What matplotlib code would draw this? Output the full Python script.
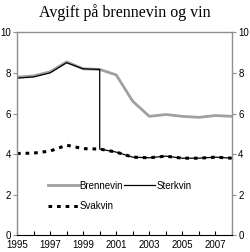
import matplotlib
matplotlib.use("Agg")
import matplotlib.pyplot as plt

plt.rcParams["font.family"] = ["Liberation Sans", "DejaVu Sans"]

years = [1995, 1996, 1997, 1998, 1999, 2000, 2001, 2002, 2003, 2004, 2005, 2006, 2007, 2008]
brennevin = [7.79, 7.85, 8.05, 8.54, 8.2, 8.17, 7.9, 6.6, 5.86, 5.95, 5.86, 5.81, 5.9, 5.86]
sterkvin_years = [1995, 1996, 1997, 1998, 1999, 2000, 2000, 2001, 2002, 2003, 2004, 2005, 2006, 2007, 2008]
sterkvin = [7.74, 7.8, 8.0, 8.5, 8.2, 8.17, 4.25, 4.1, 3.85, 3.82, 3.9, 3.8, 3.8, 3.85, 3.8]
svakvin = [4.03, 4.05, 4.15, 4.44, 4.27, 4.25, 4.1, 3.85, 3.82, 3.9, 3.8, 3.8, 3.85, 3.8]
xticks = [1995, 1997, 1999, 2001, 2003, 2005, 2007]
yticks = [0, 2, 4, 6, 8, 10]

fig = plt.figure(figsize=(2.5, 2.52), dpi=100)
ax = fig.add_axes([0.068, 0.066, 0.86, 0.806])
ax.plot(years, brennevin, color="#a0a0a0", lw=2.0, label="Brennevin")
ax.plot(years, svakvin, color="black", lw=2.2, ls=(0, (1.2, 1.6)), label="Svakvin")
ax.plot(sterkvin_years, sterkvin, color="black", lw=0.9, label="Sterkvin")

ax.set_xlim(1995, 2008)
ax.set_ylim(0, 10)
ax.set_xticks(xticks)
ax.set_xticks(years, minor=True)
ax.set_yticks(yticks)
ax.tick_params(axis="x", which="both", direction="in", length=3, width=0.8, labelsize=7, pad=3.5)
ax.tick_params(axis="y", labelsize=7, length=3, width=0.8, pad=1.5, right=True, labelright=True,
               color="#909090", labelcolor="black")
for s in ["left", "right", "top"]:
    ax.spines[s].set_color("#909090")
    ax.spines[s].set_linewidth(1.0)
ax.spines["bottom"].set_color("black")
ax.spines["bottom"].set_linewidth(0.8)

ax.legend(loc="lower left", bbox_to_anchor=(0.12, 0.095), ncol=2, frameon=False,
          prop={"size": 7}, handlelength=3.2, handletextpad=0.1, columnspacing=0.1,
          labelspacing=1.1, borderpad=0)

fig.suptitle("Avgift på brennevin og vin", family="Liberation Serif", fontsize=11.5, y=0.985)
fig.savefig("out.png", dpi=100)
